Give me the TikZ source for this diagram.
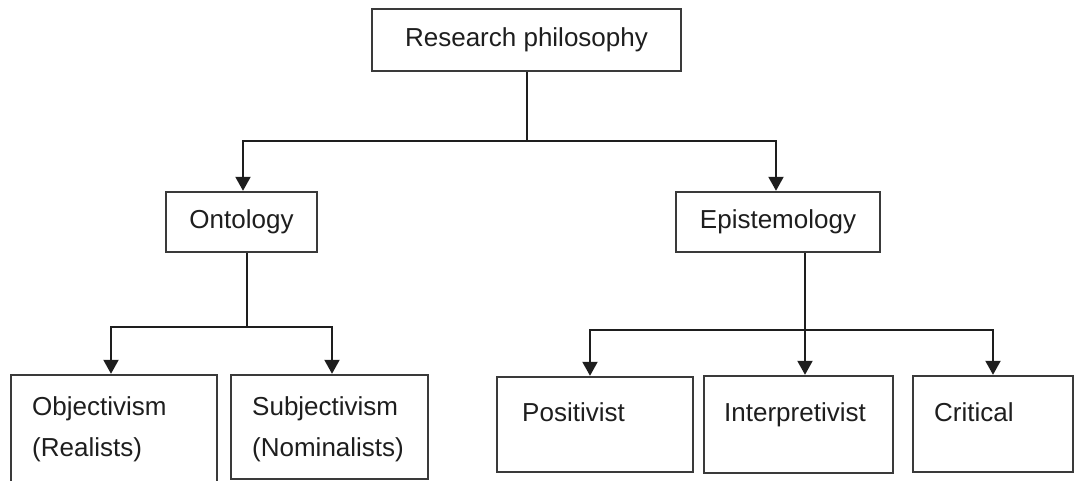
\documentclass[tikz,border=0pt]{standalone}
\usepackage{fontspec}
\setmainfont{Liberation Sans}
\usetikzlibrary{arrows.meta}
\definecolor{ink}{HTML}{1E1E1E}
\definecolor{frame}{HTML}{3A3A3A}
\begin{document}
\begin{tikzpicture}[x=1pt,y=-1pt,
  every node/.style={font=\fontsize{26}{41}\selectfont, text=ink},
  box/.style={draw=frame, line width=2.4pt, fill=white, inner sep=0pt, rectangle},
  lbl/.style={anchor=base west, inner sep=0pt, align=left},
  conn/.style={draw=ink, line width=2pt},
  arr/.style={conn, -{Triangle[width=15pt,length=14pt]}}]
\useasboundingbox (0,0) rectangle (1074,481);
\clip (0,0) rectangle (1074,481);

% top level
\node[box, minimum width=309pt, minimum height=62pt] (rp) at (526.5,40) {Research philosophy};

% second level
\node[box, minimum width=151pt, minimum height=60pt] (onto) at (241.5,222) {Ontology};
\node[box, minimum width=204pt, minimum height=60pt] (epis) at (778,222) {Epistemology};

% ontology branches (two-line labels: the base anchor sits on the last line)
\node[box, minimum width=206pt, minimum height=150pt] (obj) at (114,450) {};
\node[box, minimum width=197pt, minimum height=104pt] (subj) at (329.5,427) {};
\node[lbl] (objt) at (32,456) {Objectivism\\(Realists)};
\node[lbl] (subjt) at (252,456) {Subjectivism\\(Nominalists)};

% epistemology branches
\node[box, minimum width=196pt, minimum height=95pt] (pos) at (595,424.5) {};
\node[box, minimum width=189pt, minimum height=97pt] (interp) at (798.5,424.5) {};
\node[box, minimum width=160pt, minimum height=96pt] (crit) at (993,424) {};
\node[lbl] (post) at (522,421) {Positivist};
\node[lbl] (interpt) at (724,421) {Interpretivist};
\node[lbl] (critt) at (934,421) {Critical};

% connectors from the root
\draw[conn] (rp.south) -- (rp.south |- 0,141) coordinate (rj);
\draw[arr] (rj) -| ([xshift=1.5pt]onto.north);
\draw[arr] (rj) -| ([xshift=-2pt]epis.north);

% connectors below Ontology
\draw[conn] ([xshift=5.5pt]onto.south) -- ++(0,74) coordinate (oj);
\draw[arr] (oj) -| ([xshift=-3pt]obj.north);
\draw[arr] (oj) -| ([xshift=2.5pt]subj.north);

% connectors below Epistemology
\draw[arr] ([xshift=27pt]epis.south) -- ([xshift=6.5pt]interp.north);
\coordinate (ej) at (805,330);
\draw[arr] (ej) -| ([xshift=-5pt]pos.north);
\draw[arr] (ej) -| (crit.north);
\end{tikzpicture}
\end{document}
